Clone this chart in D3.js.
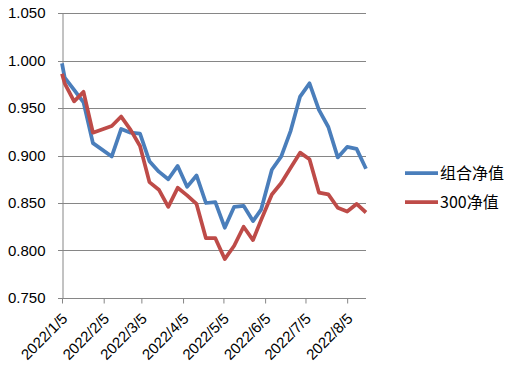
<!DOCTYPE html>
<html>
<head>
<meta charset="utf-8">
<script src="https://cdn.jsdelivr.net/npm/d3@7"></script>
<style>
  body { margin: 0; background: #fff; }
  svg text { font-family: "Liberation Sans", Arial, sans-serif; fill: #000; }
  .legend text { font-family: "Noto Sans CJK SC", sans-serif; }
</style>
</head>
<body>
<div id="chart"></div>
<script>
const dates = ["2022-01-05","2022-01-07","2022-01-14","2022-01-21","2022-01-28","2022-02-11","2022-02-18",
  "2022-02-25","2022-03-04","2022-03-11","2022-03-18","2022-03-25","2022-04-01","2022-04-08","2022-04-15",
  "2022-04-22","2022-04-29","2022-05-06","2022-05-13","2022-05-20","2022-05-27","2022-06-02","2022-06-10",
  "2022-06-17","2022-06-24","2022-07-01","2022-07-08","2022-07-15","2022-07-22","2022-07-29","2022-08-05",
  "2022-08-12","2022-08-19"];
const portfolio = [0.997,0.982,0.969,0.956,0.913,0.899,0.928,0.924,0.923,0.894,0.883,0.875,0.889,0.867,0.879,
  0.850,0.851,0.824,0.846,0.847,0.831,0.843,0.885,0.899,0.926,0.962,0.976,0.948,0.930,0.898,0.909,0.907,0.886];
const csi300 = [0.986,0.976,0.957,0.967,0.924,0.931,0.941,0.927,0.910,0.872,0.864,0.846,0.866,0.858,0.849,
  0.813,0.813,0.791,0.805,0.825,0.811,0.832,0.859,0.871,0.887,0.903,0.896,0.861,0.859,0.845,0.841,0.849,0.840];
const seriesNames = ["组合净值", "300净值"];
const tickDates = ["2022-01-05","2022-02-05","2022-03-05","2022-04-05","2022-05-05","2022-06-05","2022-07-05","2022-08-05"];
const yTicks = [0.75, 0.80, 0.85, 0.90, 0.95, 1.00, 1.05];

const width = 518, height = 377;
const plot = { left: 62, right: 366, top: 13, bottom: 298 };
const colors = ["#4a7ebb", "#be4b48"];
const gridColor = "#868686";

const parse = d3.utcParse("%Y-%m-%d");
const fmtTick = d3.utcFormat("%Y/%-m/%-d");

const svg = d3.select('#chart')
  .append('svg')
  .attr('width', width)
  .attr('height', height);

const x = d3.scaleUtc()
  .domain([parse(dates[0]), parse(dates[dates.length - 1])])
  .range([plot.left, plot.right]);

const y = d3.scaleLinear()
  .domain([0.75, 1.05])
  .range([plot.bottom, plot.top]);

// gridlines
svg.append('g')
  .selectAll('line')
  .data(yTicks)
  .enter()
  .append('line')
  .attr('x1', plot.left - 4)
  .attr('x2', plot.right)
  .attr('y1', d => Math.round(y(d)) + 0.5)
  .attr('y2', d => Math.round(y(d)) + 0.5)
  .attr('stroke', gridColor)
  .attr('stroke-width', 1);

// y axis
const yAxis = d3.axisLeft(y)
  .tickValues(yTicks)
  .tickSize(0)
  .tickPadding(17)
  .tickFormat(d3.format('.3f'));

svg.append('g')
  .attr('transform', `translate(${plot.left + 0.5},0)`)
  .call(yAxis)
  .call(g => g.select('.domain').attr('stroke', gridColor))
  .selectAll('text')
  .style('font-size', '15px');

// x axis
const xAxis = d3.axisBottom(x)
  .tickValues(tickDates.map(parse))
  .tickSize(5)
  .tickFormat(fmtTick);

svg.append('g')
  .attr('transform', `translate(0,${Math.round(plot.bottom) + 0.5})`)
  .call(xAxis)
  .call(g => g.select('.domain').attr('stroke', gridColor).attr('d', `M${plot.left},0H${plot.right}`))
  .call(g => g.selectAll('.tick line').attr('stroke', gridColor))
  .selectAll('text')
  .style('font-size', '15px')
  .attr('text-anchor', 'end')
  .attr('dy', null)
  .attr('y', 0)
  .attr('transform', 'translate(6,21) rotate(-45)');

// lines
const line = d3.line()
  .x((d, i) => x(parse(dates[i])))
  .y(d => y(d));

[portfolio, csi300].forEach((values, k) => {
  svg.append('path')
    .datum(values)
    .attr('fill', 'none')
    .attr('stroke', colors[k])
    .attr('stroke-width', 3.75)
    .attr('stroke-linejoin', 'round')
    .attr('d', line);
});

// legend
const legend = svg.append('g').attr('class', 'legend');
seriesNames.forEach((name, k) => {
  const ly = 173 + k * 29;
  legend.append('line')
    .attr('x1', 405).attr('x2', 438)
    .attr('y1', ly).attr('y2', ly)
    .attr('stroke', colors[k])
    .attr('stroke-width', 3.75);
  legend.append('text')
    .attr('x', 440)
    .attr('y', ly)
    .attr('dy', '0.35em')
    .style('font-size', '16px')
    .text(name);
});
</script>
</body>
</html>
